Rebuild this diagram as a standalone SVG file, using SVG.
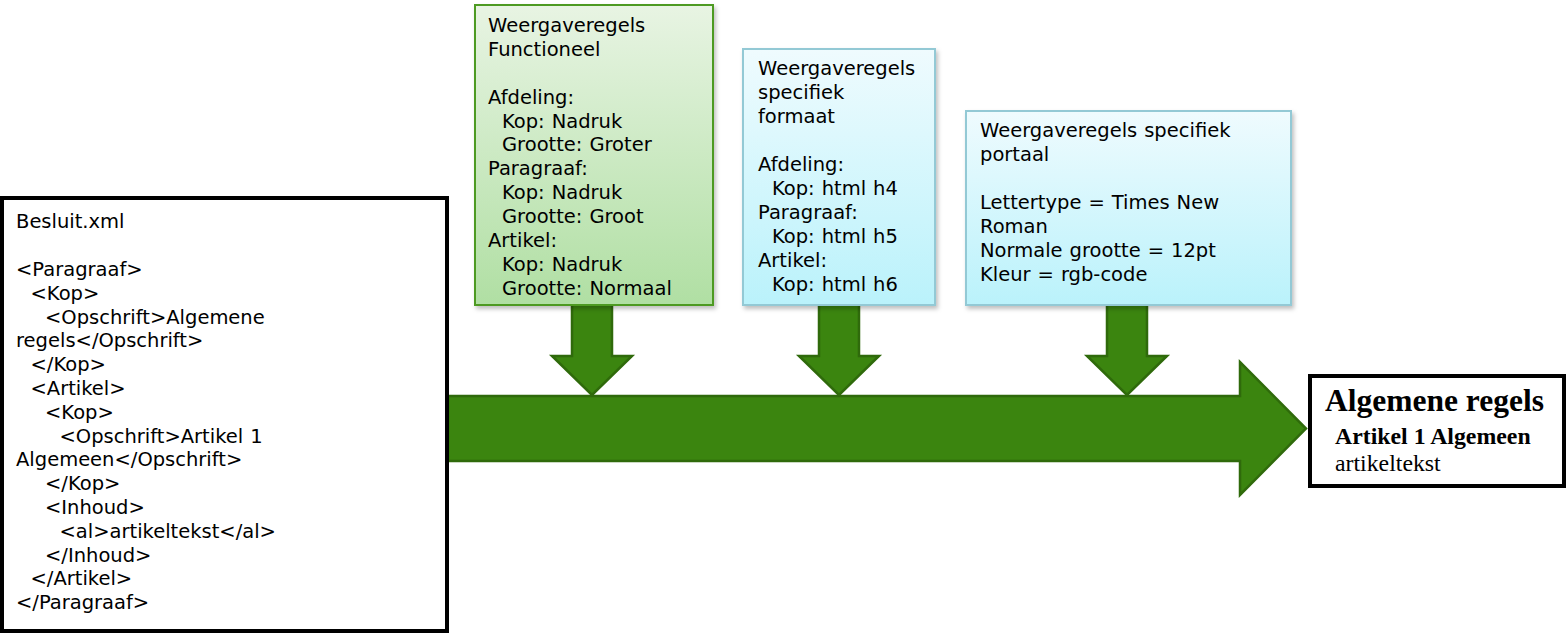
<svg xmlns="http://www.w3.org/2000/svg" width="1566" height="634" viewBox="0 0 1566 634">
<style>
.t{font-family:"DejaVu Sans","Verdana",sans-serif;font-size:19.5px;fill:#000;word-spacing:0.8px}
.arrow{fill:#3b850f;stroke:#2f6a0b;stroke-width:2.5;stroke-linejoin:miter}
.bb{fill:#fff;stroke:#000;stroke-width:4}
.ser{font-family:"Liberation Serif","Times New Roman",serif;fill:#000}
</style>
<defs>
<linearGradient id="gG" x1="0" y1="0" x2="0" y2="1">
<stop offset="0" stop-color="#e8f4e3"/>
<stop offset="1" stop-color="#b0dfa3"/>
</linearGradient>
<linearGradient id="gB" x1="0" y1="0" x2="0" y2="1">
<stop offset="0" stop-color="#effbfe"/>
<stop offset="1" stop-color="#baf2fb"/>
</linearGradient>
<filter id="sh" x="-10%" y="-10%" width="120%" height="120%">
<feDropShadow dx="2" dy="3" stdDeviation="2" flood-color="#000" flood-opacity="0.25"/>
</filter>
</defs>

<g id="connectors">
<polygon class="arrow" points="448,396 1240,396 1240,362 1306,428.5 1240,495 1240,461 448,461"/>
<polygon class="arrow" points="572,300 612,300 612,356 632,356 592,395 552,356 572,356"/>
<polygon class="arrow" points="819,300 859,300 859,356 879,356 839,395 799,356 819,356"/>
<polygon class="arrow" points="1107,300 1147,300 1147,356 1167,356 1127,395 1087,356 1107,356"/>
</g>

<g id="besluit">
<rect class="bb" x="2" y="198" width="445" height="433"/>
<text class="t">
<tspan x="16" y="228.3">Besluit.xml</tspan>
<tspan x="16" y="276">&lt;Paragraaf&gt;</tspan>
<tspan x="30.5" y="299.8">&lt;Kop&gt;</tspan>
<tspan x="45" y="323.6">&lt;Opschrift&gt;Algemene</tspan>
<tspan x="16" y="347.4">regels&lt;/Opschrift&gt;</tspan>
<tspan x="30.5" y="371.2">&lt;/Kop&gt;</tspan>
<tspan x="30.5" y="395">&lt;Artikel&gt;</tspan>
<tspan x="45" y="418.8">&lt;Kop&gt;</tspan>
<tspan x="59.5" y="442.6">&lt;Opschrift&gt;Artikel 1</tspan>
<tspan x="16" y="466.4">Algemeen&lt;/Opschrift&gt;</tspan>
<tspan x="45" y="490.2">&lt;/Kop&gt;</tspan>
<tspan x="45" y="514">&lt;Inhoud&gt;</tspan>
<tspan x="59.5" y="537.8">&lt;al&gt;artikeltekst&lt;/al&gt;</tspan>
<tspan x="45" y="561.6">&lt;/Inhoud&gt;</tspan>
<tspan x="30.5" y="585.4">&lt;/Artikel&gt;</tspan>
<tspan x="16" y="609.2">&lt;/Paragraaf&gt;</tspan>
</text>
</g>

<g id="functioneel">
<rect x="475" y="5" width="238" height="300" fill="url(#gG)" stroke="#4d9a22" stroke-width="2" filter="url(#sh)"/>
<text class="t">
<tspan x="488" y="31.7">Weergaveregels</tspan>
<tspan x="488" y="55.6">Functioneel</tspan>
<tspan x="488" y="103.5">Afdeling:</tspan>
<tspan x="502" y="127.5">Kop: Nadruk</tspan>
<tspan x="502" y="151.4">Grootte: Groter</tspan>
<tspan x="488" y="175.3">Paragraaf:</tspan>
<tspan x="502" y="199.3">Kop: Nadruk</tspan>
<tspan x="502" y="223.2">Grootte: Groot</tspan>
<tspan x="488" y="247.2">Artikel:</tspan>
<tspan x="502" y="271.1">Kop: Nadruk</tspan>
<tspan x="502" y="295">Grootte: Normaal</tspan>
</text>
</g>

<g id="formaat">
<rect x="743" y="49" width="192" height="256" fill="url(#gB)" stroke="#93c9d5" stroke-width="2" filter="url(#sh)"/>
<text class="t">
<tspan x="758" y="74.5">Weergaveregels</tspan>
<tspan x="758" y="98.5">specifiek</tspan>
<tspan x="758" y="122.5">formaat</tspan>
<tspan x="758" y="170.5">Afdeling:</tspan>
<tspan x="772" y="194.5">Kop: html h4</tspan>
<tspan x="758" y="218.5">Paragraaf:</tspan>
<tspan x="772" y="242.5">Kop: html h5</tspan>
<tspan x="758" y="266.5">Artikel:</tspan>
<tspan x="772" y="290.5">Kop: html h6</tspan>
</text>
</g>

<g id="portaal">
<rect x="966" y="111" width="325" height="194" fill="url(#gB)" stroke="#93c9d5" stroke-width="2" filter="url(#sh)"/>
<text class="t">
<tspan x="980" y="137">Weergaveregels specifiek</tspan>
<tspan x="980" y="161">portaal</tspan>
<tspan x="980" y="209">Lettertype = Times New</tspan>
<tspan x="980" y="233">Roman</tspan>
<tspan x="980" y="257">Normale grootte = 12pt</tspan>
<tspan x="980" y="281">Kleur = rgb-code</tspan>
</text>
</g>

<g id="resultaat">
<rect class="bb" x="1310" y="376" width="254" height="110"/>
<text class="ser" x="1325" y="411" font-size="31.5" font-weight="bold">Algemene regels</text>
<text class="ser" x="1335" y="443.5" font-size="23.8" font-weight="bold">Artikel 1 Algemeen</text>
<text class="ser" x="1335" y="471" font-size="23.8">artikeltekst</text>
</g>
</svg>
